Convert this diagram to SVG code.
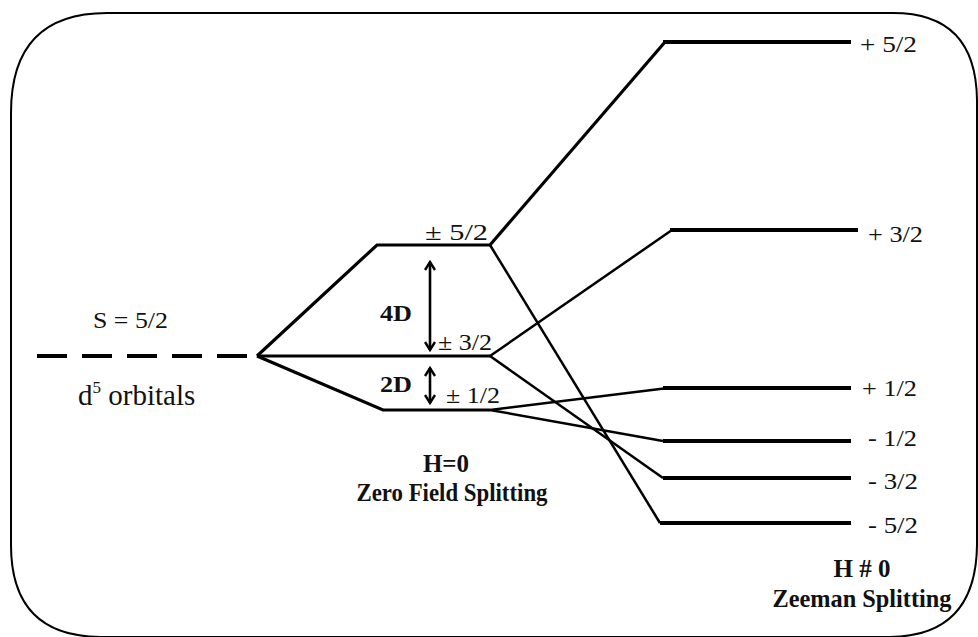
<svg xmlns="http://www.w3.org/2000/svg" width="978" height="637" viewBox="0 0 978 637">
  <style>
    .lbl { font-family: "Liberation Serif", "Times New Roman", serif; fill: #111; }
    .bold { font-weight: bold; }
    .lvl { fill: none; stroke: #000; stroke-linejoin: miter; stroke-linecap: butt; }
    .thin { stroke-width: 2.5; }
    .mid { stroke-width: 3.2; }
    .thick { stroke-width: 4.2; }
    .arr { stroke: #000; stroke-width: 2.6; fill: none; }
  </style>
  <defs>
    <marker id="chev" viewBox="0 0 12 12" refX="10" refY="6" markerWidth="12" markerHeight="12" markerUnits="userSpaceOnUse" orient="auto-start-reverse">
      <path d="M2,1 L10,6 L2,11" fill="none" stroke="#000" stroke-width="2.4"/>
    </marker>
  </defs>

  <rect width="978" height="637" fill="#fff"/>

  <!-- rounded frame -->
  <path d="M107,13 L893,13 Q976,13 977,100 L977,545 Q976,636 890,637 L100,637 Q11,636 11,545 L11,113 Q11,13 107,13 Z" fill="none" stroke="#000" stroke-width="2"/>

  <g id="connectors">
    <!-- zero-field splitting fan -->
    <polyline class="lvl mid" points="257,356 377,245 490,245"/>
    <polyline class="lvl mid" points="257,356 490,356"/>
    <polyline class="lvl mid" points="257,356 383,410 490,410"/>
    <!-- Zeeman branches -->
    <polyline class="lvl mid" points="490,245 665,42"/>
    <polyline class="lvl thin" points="490,245 660,523"/>
    <polyline class="lvl thin" points="490,356 672,230"/>
    <polyline class="lvl thin" points="490,356 663,478"/>
    <polyline class="lvl thin" points="490,410 668,388"/>
    <polyline class="lvl thin" points="490,410 663,441"/>
    <!-- energy-level splitting arrows -->
    <line class="arr" x1="430" y1="262" x2="430" y2="350" marker-start="url(#chev)" marker-end="url(#chev)"/>
    <line class="arr" x1="430" y1="368" x2="430" y2="403" marker-start="url(#chev)" marker-end="url(#chev)"/>
  </g>

  <g id="free-ion">
    <line x1="37" y1="356" x2="257" y2="356" stroke="#000" stroke-width="4" stroke-dasharray="30 15"/>
    <text class="lbl" x="93" y="328" font-size="24" textLength="75" lengthAdjust="spacingAndGlyphs">S = 5/2</text>
    <text class="lbl" x="78" y="405" font-size="29">d<tspan font-size="17" dy="-12">5</tspan><tspan dy="12"> orbitals</tspan></text>
  </g>

  <g id="zfs-levels">
    <text class="lbl" x="425" y="240" font-size="23" textLength="63" lengthAdjust="spacingAndGlyphs">± 5/2</text>
    <text class="lbl" x="438" y="350" font-size="23" textLength="54" lengthAdjust="spacingAndGlyphs">± 3/2</text>
    <text class="lbl" x="446" y="403" font-size="23" textLength="54" lengthAdjust="spacingAndGlyphs">± 1/2</text>
    <text class="lbl bold" x="380" y="321" font-size="24" textLength="32" lengthAdjust="spacingAndGlyphs">4D</text>
    <text class="lbl bold" x="380" y="392" font-size="24" textLength="32" lengthAdjust="spacingAndGlyphs">2D</text>
  </g>

  <g id="zfs-caption">
    <text class="lbl bold" x="446" y="472" font-size="25" text-anchor="middle">H=0</text>
    <text class="lbl bold" x="452" y="501" font-size="25" text-anchor="middle" textLength="191" lengthAdjust="spacingAndGlyphs">Zero Field Splitting</text>
  </g>

  <g id="zeeman-levels">
    <line class="lvl thick" x1="663" y1="42" x2="851" y2="42"/>
    <line class="lvl thick" x1="670" y1="230" x2="858" y2="230"/>
    <line class="lvl thick" x1="663" y1="388" x2="851" y2="388"/>
    <line class="lvl thick" x1="663" y1="441" x2="851" y2="441"/>
    <line class="lvl thick" x1="663" y1="478" x2="851" y2="478"/>
    <line class="lvl thick" x1="660" y1="523" x2="851" y2="523"/>
    <text class="lbl" x="860" y="52" font-size="23" textLength="57" lengthAdjust="spacingAndGlyphs">+ 5/2</text>
    <text class="lbl" x="868" y="242" font-size="23" textLength="55" lengthAdjust="spacingAndGlyphs">+ 3/2</text>
    <text class="lbl" x="862" y="396" font-size="23" textLength="55" lengthAdjust="spacingAndGlyphs">+ 1/2</text>
    <text class="lbl" x="868" y="446" font-size="23" textLength="49" lengthAdjust="spacingAndGlyphs">- 1/2</text>
    <text class="lbl" x="868" y="489" font-size="23" textLength="50" lengthAdjust="spacingAndGlyphs">- 3/2</text>
    <text class="lbl" x="868" y="533" font-size="23" textLength="50" lengthAdjust="spacingAndGlyphs">- 5/2</text>
  </g>

  <g id="zeeman-caption">
    <text class="lbl bold" x="862" y="577" font-size="25" text-anchor="middle">H # 0</text>
    <text class="lbl bold" x="862" y="607" font-size="25" text-anchor="middle" textLength="179" lengthAdjust="spacingAndGlyphs">Zeeman Splitting</text>
  </g>
</svg>
